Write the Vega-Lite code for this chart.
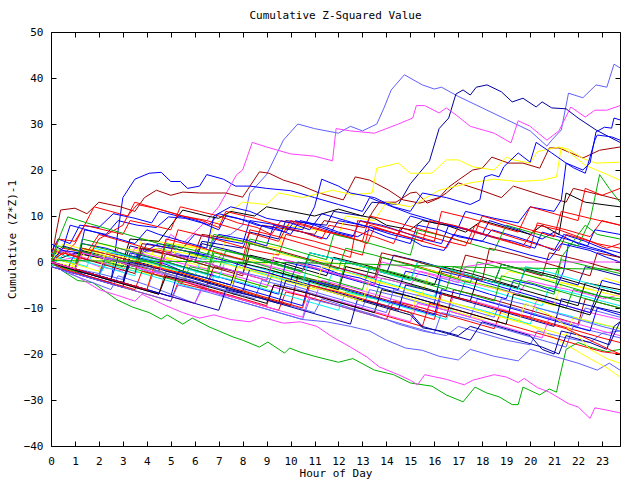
{
"$schema": "https://vega.github.io/schema/vega-lite/v6.json",
"width": 569, "height": 414,
"autosize": {"type": "none"},
"padding": {"left": 51, "top": 32, "right": 20, "bottom": 34},
"background": "white",
"title": {"text": "Cumulative Z-Squared Value", "font": "DejaVu Sans Mono", "fontSize": 11, "fontWeight": "normal", "color": "black", "anchor": "middle", "frame": "group", "baseline": "alphabetic", "offset": -4},
"config": {"view": {"stroke": "black", "strokeWidth": 1},
  "axis": {"grid": false, "domain": false, "tickColor": "black", "tickSize": -5, "labelFont": "DejaVu Sans Mono", "labelFontSize": 11, "labelColor": "black", "titleFont": "DejaVu Sans Mono", "titleFontSize": 11, "titleFontWeight": "normal", "titleColor": "black", "labelFlush": false, "labelOverlap": false}},
"data": {"values": [
{"s":"LB1","c":"LB","p":[[0,0],[1,-1.5],[2,-2.5],[3,-3.8],[3.3,1],[4.5,3],[5.5,1.5],[6.5,0.5],[6.8,5],[7.5,6],[8,8],[8.3,15],[9,19],[9.7,26.5],[10.3,30],[11,29],[12,28],[12.5,29.5],[13,28.5],[13.6,30],[13.9,33.5],[14.2,37.4],[14.75,40.7],[15.5,38.5],[16,37.6],[16.3,38],[17,36],[18,33.5],[19,31],[20,28.5],[20.7,25.2],[20.9,26.5],[21.3,28.7],[21.6,36.7],[22.2,35.7],[22.75,38.5],[23.2,38],[23.5,43],[23.75,42.2]]},
{"s":"DB1","c":"DB","p":[[0,0],[0.5,2.5],[1.5,0.5],[3,-1],[3.3,3.5],[4.5,2],[6,1],[6.3,4.5],[8,3],[8.3,6.5],[9.5,5],[9.8,9],[11.5,8],[11.8,11],[13,10],[13.4,13],[14.5,12.5],[15,17],[15.8,22],[16.2,29],[16.6,31.3],[16.9,36.5],[17.2,37.4],[17.5,36.3],[17.75,38],[18.2,38.5],[18.8,37],[19.25,34.8],[19.7,35.6],[20.25,33.7],[20.5,34.8],[20.9,33.5],[21.5,33.3],[22,31.3],[22.75,28.7],[23.3,27.2],[23.75,26]]},
{"s":"B2","c":"B","p":[[0,0],[0.5,-1],[1.5,-3],[2.5,-4.5],[2.75,5],[3,14],[3.5,18],[4.1,19.3],[4.6,19.5],[5,17.5],[5.4,17.5],[5.7,16],[6.2,16.5],[6.5,19],[7.2,18],[7.7,16.5],[8.3,16.5],[9,16],[10,15.5],[11,14],[12,12.5],[13,11],[13.3,14],[14,12.5],[15,10.5],[16,9],[17,7.5],[18,6],[18.3,9],[19.5,7],[20.5,5],[21,6.5],[22,4],[23,2.5],[23.75,1]]},
{"s":"M1","c":"M","p":[[0,0],[1,1],[2,-1],[3,-2],[3.5,3],[4.5,2],[5,6],[5.5,4],[6.5,9],[7,12],[7.75,19],[8,20],[8.4,26],[9,25],[10,23.5],[11,23],[11.75,22],[11.9,29],[12.5,28.5],[13.5,28],[14.5,30],[15.1,31.3],[15.25,34],[15.6,34],[16.2,32.4],[16.5,33.5],[16.9,32],[17.5,29.5],[18.5,28],[19.2,25.9],[19.5,30.7],[20,29.5],[20.7,26.5],[21.2,28.5],[21.7,33.7],[22.3,31.5],[22.7,33],[23.2,33],[23.75,34]]},
{"s":"DR1","c":"DR","p":[[0,0],[0.2,6],[0.4,11.3],[1,11.7],[1.5,10.5],[2,13],[2.9,12],[3.5,11],[3.9,14],[4.4,15.6],[5,14.5],[5.5,15.2],[6.2,15],[7.3,15],[8,14.1],[8.7,19.6],[9.1,19.3],[9.7,17.8],[10.4,16.7],[11.2,15],[12.2,13.5],[12.7,18.5],[13.3,17.8],[14.1,15.6],[14.7,13.5],[15.4,12.8],[16.2,14],[16.6,16.3],[17,17.8],[17.6,20],[18,20.4],[18.4,22.8],[19.1,21.5],[19.7,21.5],[20.4,20.4],[20.8,24.8],[21.2,24.8],[22.2,22.6],[22.9,24.3],[23.75,25]]},
{"s":"DR2","c":"DR","p":[[0,0],[1,-1.5],[1.3,2],[2.5,0.5],[3.5,-0.5],[3.8,4],[5,3],[6,2],[6.3,6],[7.5,5],[8.5,4],[8.8,8],[10,7],[11,6],[11.4,9],[12.5,8],[13.1,7.5],[13.4,10.7],[13.7,13],[14.4,13],[15,15],[15.25,15.2],[15.7,12.8],[16.2,13.9],[16.5,15],[17,17.2],[18,15.5],[18.8,14],[19.3,16.5],[20.5,14.5],[21.5,13],[21.8,16],[23,14.5],[23.75,13.5]]},
{"s":"Y1","c":"Y","p":[[0,0],[1,-1],[1.3,3],[2.5,2],[3.5,1],[3.8,5],[5,4],[6.5,3],[6.8,8],[7.5,11],[8,13],[9,12.5],[9.5,15],[10.5,14],[11.75,15.6],[12.6,14.6],[13.4,15],[13.6,20.4],[14.5,21.5],[15,19.3],[15.9,19.3],[16.5,22.2],[17,22.2],[17.6,20.7],[18.5,20],[19,22.8],[19.3,22.2],[20,21.5],[20.3,24],[21.2,25],[21.6,24.5],[22.2,22.5],[22.75,21.5],[23.75,21.7]]},
{"s":"Y2","c":"Y","p":[[0,0],[0.8,-2],[1.1,2],[2.5,0],[4,-1.5],[4.3,3],[5.5,2],[7,0.5],[7.3,5],[8.5,4],[9.5,3],[9.8,8],[11,7],[12,6],[12.3,10],[13.5,9],[14,13],[15,12],[16,15],[16.2,15.6],[17.5,17.2],[18.5,18],[19.5,17.5],[20.5,17.8],[21.1,18.5],[21.3,25],[21.6,24],[22.3,21],[23,19.5],[23.75,17.8]]},
{"s":"BE","c":"B","p":[[0,0],[1,-2],[2,-3],[2.3,2],[3.5,1],[4.5,4],[5.5,3],[6,6],[7,5],[8,4],[8.3,9],[9.5,8],[10.5,7],[11,12],[11.3,18],[12,16.5],[12.5,15],[13.5,14],[14.3,12],[15,11],[15.5,15],[16.5,14],[17.5,12.5],[17.9,13.5],[18.1,18.5],[18.4,19],[18.7,18.5],[18.9,20.7],[19.5,23.7],[20,21.7],[20.25,26],[20.9,23.7],[21.5,21.5],[22.2,20],[22.5,21.5],[22.6,24.3],[22.75,28.3],[23.1,29.3],[23.4,29.1],[23.5,31.3],[23.75,30.9]]},
{"s":"BF","c":"B","p":[[0,0],[0.7,-1.5],[1,2],[2.5,0.5],[3.5,-1],[4,4],[5,3],[6.5,1.5],[7,6],[8,5],[9,3.5],[9.3,8],[10.5,6.5],[11.5,5],[12,9],[13,8],[14.5,6],[15,10],[16,8.5],[17,7.5],[17.3,11],[18.5,9.5],[19.5,8.5],[20,12],[21,11],[21.3,13.5],[21.5,21.5],[21.8,20.5],[22.3,19.3],[22.5,22.8],[22.7,26.5],[22.8,27.6],[23.4,27.2],[23.75,26.5]]},
{"s":"K1","c":"K","p":[[0,0],[1,2],[2,1],[3,0],[3.3,5],[4.5,4.5],[5.5,11.3],[6.5,10],[7,9.5],[7.5,11],[8.5,10],[9,12],[10,11],[11,10],[12,11.5],[13,10],[13.5,9.5],[14,8],[15,7],[15.5,9],[16.5,8],[17.3,6.5],[18,9],[19,7.5],[20,6],[20.5,8],[21.2,6],[21.5,15],[22.3,13],[23,12.5],[23.75,12]]},
{"s":"GB","c":"G","p":[[0,0],[0.5,-2],[1.1,-4],[1.75,-4.5],[2.75,-8.2],[3.4,-9.8],[4.1,-11],[4.6,-12.4],[4.85,-11.5],[5.5,-13.5],[5.9,-12.2],[6.6,-14.1],[7.6,-16.3],[8,-17],[8.7,-18.5],[9.05,-17.4],[9.75,-19.8],[9.96,-18.7],[10.4,-19.6],[11,-20.5],[12,-21.8],[12.6,-21],[13.5,-23.5],[14.3,-24.5],[15,-26.3],[15.9,-27],[16.5,-28.9],[17.2,-30.4],[17.7,-27.2],[18.2,-28.5],[18.7,-29.3],[19.25,-31],[19.5,-31],[19.7,-27.2],[20.4,-28.9],[20.8,-27.6],[21.1,-28.3],[21.2,-25.8],[21.5,-19],[22,-17.5],[22.5,-18.5],[23.2,-19.5],[23.75,-19]]},
{"s":"MB","c":"M","p":[[0,0],[0.5,-1.5],[1.2,-3.5],[2,-6],[2.75,-7.2],[3.5,-8.5],[3.8,-7],[4.8,-9.5],[5.5,-11],[6.2,-12.2],[6.8,-11.5],[7.5,-12.5],[8.3,-13],[8.8,-12],[9.7,-13.3],[10.4,-13],[11.1,-14],[11.75,-16.3],[12.5,-18.5],[13.2,-20.7],[13.7,-22.8],[14.5,-24.5],[15,-25.7],[15.3,-26.7],[15.6,-24.5],[16.5,-25.5],[17.25,-26.7],[17.6,-25.7],[18.5,-24.5],[19,-25],[19.5,-26.2],[19.75,-25.3],[20.3,-27.3],[20.8,-28.3],[21.6,-30.8],[22,-31.5],[22.5,-34],[22.7,-31.7],[23.2,-32.2],[23.75,-32.8]]},
{"s":"LB2","c":"LB","p":[[0,0],[0.5,-2],[1.5,-4],[2.5,-6],[2.8,-3],[4,-5],[5,-7],[6,-9],[6.3,-5.5],[7.5,-8],[8.5,-9.5],[9.5,-11],[10.5,-12.5],[11.5,-13],[12.5,-14],[13.3,-15],[14,-17],[14.8,-18.7],[15.5,-19.2],[16.2,-20.5],[17,-21.3],[17.5,-19],[18.5,-20.5],[19.5,-21.5],[20,-19],[21,-20.5],[22,-22],[22.8,-23.5],[23.3,-22],[23.75,-23.5]]},
{"s":"LB3","c":"LB","p":[[0,0],[1,-1.5],[2,-3],[2.2,1],[3.5,-1],[4.5,-3],[5.5,-4],[6.5,-6],[7.5,-7.5],[8,-6],[9,-8],[10,-9.5],[11,-11],[11.3,-8],[12.5,-10],[13.5,-11.5],[14.5,-13.5],[15.5,-15],[16.5,-16],[17,-14],[18,-15.5],[19,-17],[20,-18],[20.3,-15],[21.5,-16.5],[22.5,-17.5],[23,-15.5],[23.75,-15]]},
{"s":"Y3","c":"Y","p":[[0,0],[1,-2],[1.3,1],[2.5,-0.5],[3.5,-2],[4.5,-3],[4.8,1],[6,-0.5],[7,-2.5],[8,-4],[9,-5.5],[9.3,-2],[10.5,-4],[11.5,-5.5],[12.5,-7],[13.5,-8],[14,-6],[15,-8],[16,-9.5],[17,-11],[18,-12.5],[18.5,-10.5],[19.5,-12.5],[20.5,-15],[21.5,-18],[22.5,-21],[23.2,-23],[23.75,-25]]},
{"s":"c01","c":"R","p":[[0,1],[0.5,3],[1.5,2],[2,6],[3,4.5],[4,3],[5,2],[5.3,7],[6.5,5.5],[7.5,4],[8.5,2.5],[9.5,1.5],[9.8,6],[11,4.5],[12,3],[13,1.5],[13.3,8],[14.5,6],[15.5,4.5],[16.5,3],[17,7.5],[18,6],[19,4.5],[20,3],[20.3,8.5],[21.5,7],[22.5,5.5],[23,9],[23.75,8]]},
{"s":"c02","c":"G","p":[[0,-0.5],[1,-2],[2,-3],[2.3,0],[3.5,-1.5],[4.5,-3],[5.5,-4.5],[5.8,-1],[7,-2.5],[8,-4],[9,-5.5],[9.3,-2],[10.5,-3.5],[11.5,-5],[12.5,-6.5],[13.5,-8],[13.8,-3.5],[15,-5],[16,-6.5],[17,-8],[17.3,-4],[18.5,-5.5],[19.5,-7],[20.5,-8.5],[21.5,-10],[21.8,-6],[23,-7.5],[23.75,-8.5]]},
{"s":"c03","c":"B","p":[[0,2],[0.3,5],[0.8,4],[1.2,8],[2,7.5],[2.6,10.5],[3.5,9.5],[4.2,8.5],[4.5,11],[5.3,10],[6,9.2],[6.6,8],[7,10.5],[7.8,9.5],[8.6,8],[9.3,7.5],[10,6],[10.4,9],[11.2,8],[12,6.5],[12.8,5.5],[13.3,7],[14,5.5],[15,4],[15.3,8],[16.2,7],[17,5.5],[18,4.5],[18.4,7],[19.4,5.5],[20.3,4],[21,2.5],[21.4,6],[22.3,4.5],[23,3],[23.75,2]]},
{"s":"c04","c":"M","p":[[0,0],[1,-1.5],[1.3,2],[2.5,0.5],[3.5,-1],[4.5,-2.5],[5.5,-4],[6.5,-5.5],[6.8,-2],[8,-3.5],[9,-5],[10,-6.5],[11,-8],[11.3,-4],[12.5,-5.5],[13.5,-7],[14.5,-8.5],[15.5,-10],[16.5,-11.5],[16.8,-7.5],[18,-9],[19,-10.5],[20,-12],[20.3,-8],[21.5,-9.5],[22.5,-11],[23.75,-12.5]]},
{"s":"c05","c":"C","p":[[0,-1],[0.5,1.5],[1.5,0],[2.5,-1.5],[3.5,-3],[3.8,1],[5,-0.5],[6,-2],[7,-3.5],[7.3,0.5],[8.5,-1],[9.5,-2.5],[10.5,-4],[11.5,-5.5],[11.8,-1.5],[13,-3],[14,-4.5],[15,-6],[16,-7.5],[16.3,-3.5],[17.5,-5],[18.5,-6.5],[19.5,-8],[20.5,-9.5],[20.8,-5.5],[22,-7],[23,-8.5],[23.75,-9.5]]},
{"s":"c06","c":"DR","p":[[0,0],[1,-1.5],[2,-3],[3,-4.5],[3.3,-0.5],[4.5,-2],[5.5,-3.5],[6.5,-5],[6.8,-1],[8,-2.5],[9,-4],[9.3,1],[10.5,-0.5],[11.5,-2],[12.5,-3.5],[13.5,-5],[13.8,1],[15,-0.5],[16,-2],[17,-3.5],[17.3,1.5],[18.5,0],[19.5,-1.5],[20.5,-3],[20.8,2],[22,0.5],[23,-1],[23.75,-2]]},
{"s":"c07","c":"Y","p":[[0,0.5],[0.5,2],[1.2,1],[2,4],[2.8,3],[3.6,2.5],[4.3,1.5],[5,0.5],[5.3,3.5],[6.1,3],[6.9,2],[7.6,1],[8.3,0.5],[9,-0.5],[9.4,2],[10.2,1],[11.1,0.5],[12,-0.5],[12.7,-1.5],[13.3,-1],[14,-2.5],[14.8,-3],[15.2,-1],[16,-2],[16.9,-2.5],[17.8,-3.5],[18.6,-4.5],[19.1,-2],[20,-3],[20.9,-4],[21.8,-5],[22.6,-6],[23.1,-3.5],[23.75,-4.5]]},
{"s":"c08","c":"K","p":[[0,0],[1,-1.5],[1.3,2.5],[2.5,1],[3.5,-0.5],[4.5,-2],[4.8,2],[6,0.5],[7,-1],[8,-2.5],[8.3,1.5],[9.5,0],[10.5,-1.5],[11.5,-3],[11.8,1],[13,-0.5],[14,-2],[15,-3.5],[16,-5],[16.3,-1],[17.5,-2.5],[18.5,-4],[19.5,-5.5],[19.8,-1.5],[21,-3],[22,-4.5],[23,-6],[23.75,-7]]},
{"s":"c09","c":"LB","p":[[0,0],[1,-1.5],[2,-3],[3,-4.5],[4,-6],[4.3,-2],[5.5,-3.5],[6.5,-5],[7.5,-6.5],[8.5,-8],[8.8,-4],[10,-5.5],[11,-7],[12,-8.5],[13,-10],[13.3,-6],[14.5,-7.5],[15.5,-9],[16.5,-10.5],[17.5,-12],[17.8,-8],[19,-9.5],[20,-11],[21,-12.5],[22,-14],[22.3,-10],[23.75,-12]]},
{"s":"c10","c":"DB","p":[[0,1],[0.5,3.5],[1.5,2],[2.5,0.5],[3.5,-1],[3.8,3],[5,1.5],[6,0],[6.3,4],[7.5,2.5],[8.5,1],[9.5,-0.5],[10.5,-2],[10.8,2],[12,0.5],[13,-1],[14,-2.5],[14.3,1.5],[15.5,0],[16.5,-1.5],[17.5,-3],[18.5,-4.5],[18.8,-0.5],[20,-2],[21,-3.5],[22,-5],[22.3,-1],[23.75,-3]]},
{"s":"c11","c":"R","p":[[0,-1],[1,-2.5],[2,-4],[3,-5.5],[4,-7],[5,-8.5],[5.3,-4.5],[6.5,-6],[7.5,-7.5],[8.5,-9],[9.5,-10.5],[9.8,-6.5],[11,-8],[12,-9.5],[13,-11],[14,-12.5],[14.3,-8.5],[15.5,-10],[16.5,-11.5],[17.5,-13],[18.5,-14.5],[18.8,-10.5],[20,-12],[21,-13.5],[22,-15],[23,-16.5],[23.75,-17.5]]},
{"s":"c12","c":"G","p":[[0,0],[0.3,3.5],[1.5,2],[2.5,0.5],[3.5,-1],[3.8,3],[5,1.5],[6,0],[7,-1.5],[7.3,2.5],[8.5,1],[9.5,-0.5],[10.5,-2],[10.8,2],[12,0.5],[13,-1],[14,-2.5],[15,-4],[15.3,0],[16.5,-1.5],[17.5,-3],[18.5,-4.5],[18.8,-0.5],[20,-2],[21,-3.5],[21.3,0.5],[22.5,-1],[23.75,-2.5]]},
{"s":"c13","c":"B","p":[[0,0],[1,-1.5],[1.3,4],[2.3,3],[3.2,1.5],[4,0.5],[4.8,-0.5],[5.5,-2],[5.8,2],[6.7,1],[7.5,0],[8.4,-1.5],[9.2,-2.5],[10,-4],[10.3,0],[11.2,-1],[12,-2.5],[12.9,-3.5],[13.7,-5],[14.5,-6],[14.8,-2],[15.7,-3],[16.6,-4.5],[17.4,-5.5],[18.3,-7],[19,-8],[19.3,-4],[20.2,-5],[21,-6.5],[21.4,-2],[21.6,4],[22.4,3],[23.2,2],[23.75,1]]},
{"s":"c14","c":"M","p":[[0,0],[0.4,2.5],[1.1,1.5],[1.9,0],[2.4,-0.5],[2.8,3],[3.6,2],[4.4,1],[5.2,0],[6,-1],[6.5,-1.5],[7.1,1.5],[7.9,0.5],[8.8,-0.5],[9.6,-1.5],[10.4,-2.5],[10.8,0],[11.7,-1],[12.5,-2],[13.3,-3],[14.2,-4],[15,-5],[15.4,-2],[16.2,-3],[17,-4],[17.9,-5],[18.7,-6],[19.5,-7],[19.9,-4],[20.7,-5],[21.6,-6],[22.4,-7],[23.1,-8],[23.75,-7]]},
{"s":"c15","c":"R","p":[[0,3],[0.5,1.5],[1,4],[1.8,12],[2.5,11],[3.2,10],[3.6,12.5],[4.5,11.5],[5.5,10],[6.3,9],[7,7.5],[7.3,11],[8.5,9.5],[9.5,8],[10.5,6.5],[11.3,5],[11.6,8],[12.5,7],[13.5,5.5],[14.3,4],[14.6,7.5],[15.5,6],[16.5,4.5],[17.3,3.5],[17.7,8],[18.6,6.5],[19.5,5],[20.5,3.5],[21.2,2.5],[21.5,6],[22.5,4.5],[23.2,3],[23.75,4]]},
{"s":"c16","c":"B","p":[[0,-1],[1,-2.5],[2,-4],[3,-5.5],[3.3,2],[4.5,0.5],[5.5,-1],[6.5,-2.5],[7.5,-4],[8.5,-5.5],[9.5,-7],[9.8,0],[11,-1.5],[12,-3],[13,-4.5],[14,-6],[15,-7.5],[16,-9],[16.3,-2],[17.5,-3.5],[18.5,-5],[19.5,-6.5],[20.5,-8],[21.5,-9.5],[22.5,-11],[23,-4],[23.75,-5]]},
{"s":"c17","c":"DR","p":[[0,0],[0.5,-1],[1.5,-2.5],[2.5,-4],[3.5,-5.5],[4.5,-7],[4.8,-2],[6,-3.5],[7,-5],[8,-6.5],[9,-8],[10,-9.5],[10.3,-3],[11.5,-4.5],[12.5,-6],[13.5,-7.5],[14.5,-9],[15.5,-10.5],[16.5,-12],[16.8,-6],[18,-7.5],[19,-9],[20,-10.5],[21,-12],[22,-13.5],[22.3,-8],[23.75,-10]]},
{"s":"c18","c":"C","p":[[0,0],[1,-1.5],[2,-3],[2.3,-0.5],[3.5,-2],[4.5,-3.5],[5.5,-5],[6.5,-6.5],[6.8,-3],[8,-4.5],[9,-6],[10,-7.5],[11,-9],[12,-10.5],[12.3,-6.5],[13.5,-8],[14.5,-9.5],[15.5,-11],[16.5,-12.5],[16.8,-9],[18,-10.5],[19,-12],[20,-13.5],[20.3,-10],[21.5,-11.5],[22.5,-13],[23.75,-14.5]]},
{"s":"c19","c":"Y","p":[[0,0],[0.5,4],[1.5,2.5],[2.5,1],[3.5,-0.5],[4.5,-2],[5.5,-3.5],[5.8,1.5],[7,0],[8,-1.5],[9,-3],[10,-4.5],[11,-6],[11.3,-1],[12.5,-2.5],[13.5,-4],[14.5,-5.5],[15.5,-7],[15.8,-2],[17,-3.5],[18,-5],[19,-6.5],[20,-8],[21,-9.5],[21.3,-4.5],[22.5,-6],[23.75,-7.5]]},
{"s":"c20","c":"K","p":[[0,0],[1,-1.5],[2,-3],[3,-4.5],[3.3,1],[4.5,-0.5],[5.5,-2],[6.5,-3.5],[7.5,-5],[7.8,0],[9,-1.5],[10,-3],[11,-4.5],[12,-6],[12.3,-1],[13.5,-2.5],[14.5,-4],[15.5,-5.5],[16.5,-7],[17.5,-8.5],[17.8,-3.5],[19,-5],[20,-6.5],[21,-8],[22,-9.5],[22.3,-4.5],[23.75,-6]]},
{"s":"c21","c":"LB","p":[[0,-1],[1,-2.5],[2,-4],[3,-5.5],[4,-7],[5,-8.5],[5.3,-5],[6.5,-6.5],[7.5,-8],[8.5,-9.5],[9.5,-11],[10.5,-12.5],[10.8,-8],[12,-9.5],[13,-11],[14,-12.5],[15,-14],[16,-15.5],[16.3,-11],[17.5,-12.5],[18.5,-14],[19.5,-15.5],[20.5,-17],[21.5,-18.5],[21.8,-14],[23,-15.5],[23.75,-16.5]]},
{"s":"c22","c":"DB","p":[[0,0],[0.5,-1],[1.5,-2.5],[2.5,-4],[2.8,1],[4,-0.5],[5,-2],[6,-3.5],[7,-5],[8,-6.5],[8.3,-1.5],[9.5,-3],[10.5,-4.5],[11.5,-6],[12.5,-7.5],[13.5,-9],[14.5,-10.5],[14.8,-5],[16,-6.5],[17,-8],[18,-9.5],[19,-11],[20,-12.5],[21,-14],[21.3,-8],[22.5,-9.5],[23.75,-11]]},
{"s":"c23","c":"R","p":[[0,0],[0.5,-1.5],[1.5,-3],[2.5,-4.5],[3.5,-6],[3.8,-2],[5,-3.5],[6,-5],[7,-6.5],[8,-8],[9,-9.5],[9.3,-5],[10.5,-6.5],[11.5,-8],[12.5,-9.5],[13.5,-11],[14.5,-12.5],[15.5,-14],[15.8,-9],[17,-10.5],[18,-12],[19,-13.5],[20,-15],[21,-16.5],[22,-18],[23,-19.5],[23.75,-20]]},
{"s":"c24","c":"G","p":[[0,1],[1,-0.5],[1.3,4],[2.5,2.5],[3.5,1],[4.5,-0.5],[5.5,-2],[6.5,-3.5],[6.8,2],[8,0.5],[9,-1],[10,-2.5],[11,-4],[12,-5.5],[12.3,0],[13.5,-1.5],[14.5,-3],[15.5,-4.5],[16.5,-6],[16.8,-1],[18,-2.5],[19,-4],[20,-5.5],[21,-7],[21.3,1],[22.3,8],[22.8,6],[23.75,5]]},
{"s":"c25","c":"B","p":[[0,4],[0.5,2.5],[1.2,2],[1.4,7],[2.3,6],[2.8,9],[3.6,8],[4.4,7.5],[4.9,9.8],[5.6,9.5],[6.3,8.5],[7,7],[7.3,10],[8.2,9],[9,7.5],[9.8,6.5],[10.2,9],[11,8],[11.8,6.5],[12.6,5.5],[12.9,9],[13.8,8],[14.7,6.5],[15.5,5],[16.3,4],[16.6,8],[17.5,7],[18.4,5.5],[19.3,4.5],[20.2,3],[20.5,6.5],[21.5,5],[22.4,3.5],[22.7,7],[23.75,6]]},
{"s":"c26","c":"M","p":[[0,0],[1,-1.5],[2,-3],[3,-4.5],[4,-6],[5,-7.5],[6,-9],[6.3,-6],[7.5,-7.5],[8.5,-9],[9.5,-10.5],[10.5,-12],[10.8,-7],[12,-8.5],[13,-10],[14,-11.5],[15,-13],[15.3,-9],[16.5,-10.5],[17.5,-12],[18.5,-13.5],[19.5,-15],[20.5,-16.5],[20.8,-12],[22,-13.5],[23,-15],[23.75,-16]]},
{"s":"c27","c":"C","p":[[0,2],[0.5,0.5],[1.5,-1],[1.8,3],[3,1.5],[4,0],[5,-1.5],[6,-3],[6.3,1],[7.5,-0.5],[8.5,-2],[9.5,-3.5],[10.5,-5],[10.8,2],[12,0.5],[13,-1],[14,-2.5],[15,-4],[15.3,0],[16.5,-1.5],[17.5,-3],[18.5,-4.5],[19.5,-6],[19.8,-1],[21,-2.5],[22,-4],[23,-5.5],[23.75,-6.5]]},
{"s":"c28","c":"DR","p":[[0,0],[0.5,2],[1.5,0.5],[2.5,-1],[3.5,-2.5],[3.8,3],[5,1.5],[6,0],[7,-1.5],[8,-3],[8.3,4],[9.5,2.5],[10.5,1],[11.5,-0.5],[12.5,-2],[13.5,-3.5],[13.8,2],[15,0.5],[16,-1],[17,-2.5],[18,-4],[18.3,3],[19.5,1.5],[20.5,0],[21.5,-1.5],[22.5,-3],[22.8,2],[23.75,1]]},
{"s":"c29","c":"Y","p":[[0,0],[1,-1.5],[2,-3],[3,-4.5],[4,-6],[4.3,-1],[5.5,-2.5],[6.5,-4],[7.5,-5.5],[8.5,-7],[9.5,-8.5],[9.8,-4],[11,-5.5],[12,-7],[13,-8.5],[14,-10],[15,-11.5],[15.3,-7],[16.5,-8.5],[17.5,-10],[18.5,-11.5],[19.5,-13],[20.5,-14.5],[21.5,-16],[21.8,-12],[23,-13.5],[23.75,-14.5]]},
{"s":"c30","c":"K","p":[[0,0],[0.5,-1],[1.5,-2.5],[2.5,-4],[3.5,-5.5],[4.5,-7],[4.8,-3],[6,-4.5],[7,-6],[8,-7.5],[9,-9],[9.3,-5],[10.5,-6.5],[11.5,-8],[12.5,-9.5],[13.5,-11],[13.8,-6],[15,-7.5],[16,-9],[17,-10.5],[18,-12],[19,-13.5],[19.3,-7],[20.5,-8.5],[21.5,-10],[22.5,-11.5],[23,-6],[23.75,-7]]},
{"s":"c31","c":"R","p":[[0,0],[0.3,5],[1,4.5],[1.4,8],[2.2,7],[3,6],[3.3,9],[4.2,8],[5,7],[5.4,12],[6.2,11],[7,10],[7.8,8.5],[8.6,7.5],[9.2,6],[9.6,9],[10.5,8],[11.5,6.5],[12.4,5.5],[13.2,4],[13.5,7.5],[14.5,6],[15.5,4.5],[15.8,9],[16.8,8],[17.8,6.5],[18.8,5],[19.7,3.5],[20.3,8],[21.2,7],[22,5.5],[22.8,4],[23.75,3]]},
{"s":"c32","c":"B","p":[[0,0],[1,-1.5],[2,-3],[3,-4.5],[4,-6],[5,-7.5],[5.3,-2],[6.5,-3.5],[7.5,-5],[8.5,-6.5],[9.5,-8],[10.5,-9.5],[10.8,-4],[12,-5.5],[13,-7],[14,-8.5],[15,-10],[16,-11.5],[16.3,-6],[17.5,-7.5],[18.5,-9],[19.5,-10.5],[20.5,-12],[21.5,-13.5],[22.5,-15],[22.8,-10],[23.75,-11.5]]},
{"s":"c33","c":"G","p":[[0,0],[1,-1.5],[1.3,5],[2.5,3.5],[3.5,2],[4.5,0.5],[5.5,-1],[6.5,-2.5],[6.8,3],[8,1.5],[9,0],[10,-1.5],[11,-3],[12,-4.5],[13,-6],[13.3,-1],[14.5,-2.5],[15.5,-4],[16.5,-5.5],[17.5,-7],[18.5,-8.5],[18.8,-3],[20,-4.5],[21,-6],[22,-7.5],[23,-9],[23.75,-10]]},
{"s":"c34","c":"DB","p":[[0,0],[1,-1.5],[2,-3],[3,-4.5],[4,-6],[5,-7.5],[6,-9],[7,-10.5],[7.3,-6],[8.5,-7.5],[9.5,-9],[10.5,-10.5],[11.5,-12],[12.5,-13.5],[12.8,-8],[14,-9.5],[15,-11],[15.5,-14],[16.5,-15.5],[17.5,-17],[18,-13],[19,-14.5],[20,-16],[20.5,-19],[21,-20],[21.3,-15],[22.5,-16.5],[23.3,-18],[23.75,-13]]},
{"s":"c35","c":"LB","p":[[0,0],[1,-1.5],[2,-3],[2.3,1],[3.5,-0.5],[4.5,-2],[5.5,-3.5],[6.5,-5],[7.5,-6.5],[7.8,-2],[9,-3.5],[10,-5],[11,-6.5],[12,-8],[13,-9.5],[14,-11],[14.3,-6],[15.5,-7.5],[16.5,-9],[17.5,-10.5],[18.5,-12],[18.8,-8],[20,-9.5],[21,-11],[22,-12.5],[23,-14],[23.75,-15]]},
{"s":"c36","c":"G","p":[[0,0],[1,-1.5],[1.3,3],[2.5,1.5],[3.5,0],[4.5,-1.5],[4.8,4],[6,2.5],[7,1],[8,-0.5],[8.3,5],[9.5,3.5],[10.5,2],[11.5,0.5],[11.8,6],[13,4.5],[14,3],[15,1.5],[15.3,7],[16.5,5.5],[17.5,4],[18.5,2.5],[19,8],[20,6.5],[21,5],[22,3.5],[22.5,9],[22.9,19],[23.3,16],[23.75,13]]},
{"s":"c37","c":"R","p":[[0,0],[0.5,2],[1.5,0.5],[2,5],[3,8],[3.5,13],[4.5,11.5],[5.5,10],[6.5,9],[7.5,7.5],[8.5,6],[9.5,4.5],[10,9],[11,7.5],[12,6],[13,4.5],[13.3,10],[14.5,8.5],[15.5,7],[16.5,5.5],[17.5,4],[18,10],[19,8.5],[20,7],[21,5.5],[21.3,11],[22.5,9.5],[23.75,8]]},
{"s":"c38","c":"R","p":[[0,0],[1,-1.5],[1.3,3],[2.5,1.5],[3.5,0],[4.5,-1.5],[4.8,5],[6,3.5],[7,2],[8,0.5],[8.3,7],[9.5,5.5],[10.5,4],[11.5,2.5],[12.5,1],[12.8,9],[14,7.5],[15,6],[16,4.5],[16.3,11],[17.5,9.5],[18.5,8],[19.5,6.5],[20,12],[21,10.5],[22,9],[22.3,16],[23,14.5],[23.75,16]]},
{"s":"c39","c":"DB","p":[[0,0],[1,-1.5],[2,-3],[3,-4.5],[3.3,0],[4.5,-1.5],[5.5,-3],[6.5,-4.5],[7.5,-6],[8.5,-7.5],[9.5,-9],[9.8,-4],[11,-5.5],[12,-7],[13,-8.5],[14,-10],[15,-11.5],[15.5,-14.3],[16.3,-15],[17,-16],[17.5,-14],[18.5,-15.5],[19.5,-17],[20.5,-18.5],[21.2,-20],[21.5,-16],[22.5,-17.5],[23.2,-19],[23.5,-14],[23.75,-13]]},
{"s":"c40","c":"Y","p":[[0,1],[1,-0.5],[2,-2],[2.3,2],[3.5,0.5],[4.5,-1],[5.5,-2.5],[6.5,-4],[7.5,-5.5],[7.8,-1],[9,-2.5],[10,-4],[11,-5.5],[12,-7],[13,-8.5],[13.3,-4],[14.5,-5.5],[15.5,-7],[16.5,-8.5],[17.5,-10],[18.5,-11.5],[19.5,-13],[19.8,-9],[21,-12],[22,-16],[22.5,-19],[23.2,-21],[23.75,-22]]},
{"s":"c41","c":"R","p":[[0,0],[1,-1.5],[2,-3],[3,-4.5],[4,-6],[4.3,-1],[5.5,-2.5],[6.5,-4],[7.5,-5.5],[8.5,-7],[9.5,-8.5],[10.5,-10],[10.8,-5],[12,-6.5],[13,-8],[14,-9.5],[15,-11],[16,-12.5],[16.3,-7],[17.5,-8.5],[18.5,-10],[19.5,-11.5],[20.5,-13],[21.5,-14.5],[22.5,-17],[23.3,-19],[23.75,-20]]},
{"s":"c42","c":"G","p":[[0,0],[0.4,6],[0.7,9.8],[1.5,8.5],[2.5,7],[3.5,5.5],[4.5,4],[5.5,2.5],[6.5,1],[6.8,6],[8,4.5],[9,3],[10,1.5],[11,0],[12,-1.5],[12.3,3],[13.5,1.5],[14.5,0],[15.5,-1.5],[16.5,-3],[17.5,-4.5],[17.8,0],[19,-1.5],[20,-3],[21,-4.5],[22,-6],[23,-7.5],[23.75,-8]]},
{"s":"c43","c":"B","p":[[0,0],[0.5,3],[0.8,8],[1.5,7],[2.5,5.5],[3.5,4],[4,7],[4.5,6],[5.5,4.5],[6.5,3],[6.8,10],[7.5,12],[8.3,11],[9,9.5],[10,8.5],[10.8,7],[11.3,10.5],[12.3,9],[13.3,7.5],[14.2,6],[15,5],[15.5,3.5],[16.4,2.5],[16.8,6],[18,4.5],[19,3],[20,1.5],[20.8,0.5],[21.3,4],[22.5,2.5],[23.2,1],[23.75,0]]},
{"s":"M2","c":"M","p":[[0,0],[1,-1.5],[1.3,2],[2.5,0.5],[3.5,-1],[4.5,-2.5],[4.8,2],[6,0.5],[7,-1],[8,-2.5],[9,-4],[9.3,1],[10.5,-0.5],[11.5,-2],[12.5,-3.5],[13.5,-5],[13.8,0],[15,-1.5],[16,-3],[17,-4.5],[17.3,-1],[18.6,0],[23.75,0]]},
{"s":"FG","c":"G","p":[[0,0.3],[6,0.1],[12,-0.3],[18,-1.2],[23.75,-1.6]]}
]},
"transform": [{"flatten": ["p"]}],
"layer": [
 {"mark": {"type": "line", "strokeWidth": 1, "clip": true},
  "encoding": {
   "x": {"field": "p[0]", "type": "quantitative", "scale": {"domain": [0, 23.75], "nice": false, "zero": false},
         "axis": {"orient": "bottom", "values": [0,1,2,3,4,5,6,7,8,9,10,11,12,13,14,15,16,17,18,19,20,21,22,23], "title": "Hour of Day", "labelPadding": 14, "titlePadding": 1}},
   "y": {"field": "p[1]", "type": "quantitative", "scale": {"domain": [-40, 50], "nice": false, "zero": false},
         "axis": {"orient": "left", "values": [-40,-30,-20,-10,0,10,20,30,40,50], "title": "Cumulative (Z*Z)-1", "labelPadding": 13, "titlePadding": 6}},
   "color": {"field": "c", "type": "nominal", "legend": null,
     "scale": {"domain": ["R","G","B","M","C","DR","Y","K","LB","DB"], "range": ["#ff0000","#00b000","#0000ff","#ff40ff","#00f0f0","#a00000","#ffff00","#000000","#6060ff","#0000a0"]}},
   "detail": {"field": "s", "type": "nominal"}
  }},
 {"mark": {"type": "point", "opacity": 0},
  "encoding": {
   "x": {"field": "p[0]", "type": "quantitative", "axis": {"orient": "top", "values": [0,1,2,3,4,5,6,7,8,9,10,11,12,13,14,15,16,17,18,19,20,21,22,23], "labels": false, "title": null}},
   "y": {"field": "p[1]", "type": "quantitative", "axis": {"orient": "right", "values": [-40,-30,-20,-10,0,10,20,30,40,50], "labels": false, "title": null}}
  }}
],
"resolve": {"axis": {"x": "independent", "y": "independent"}}
}
